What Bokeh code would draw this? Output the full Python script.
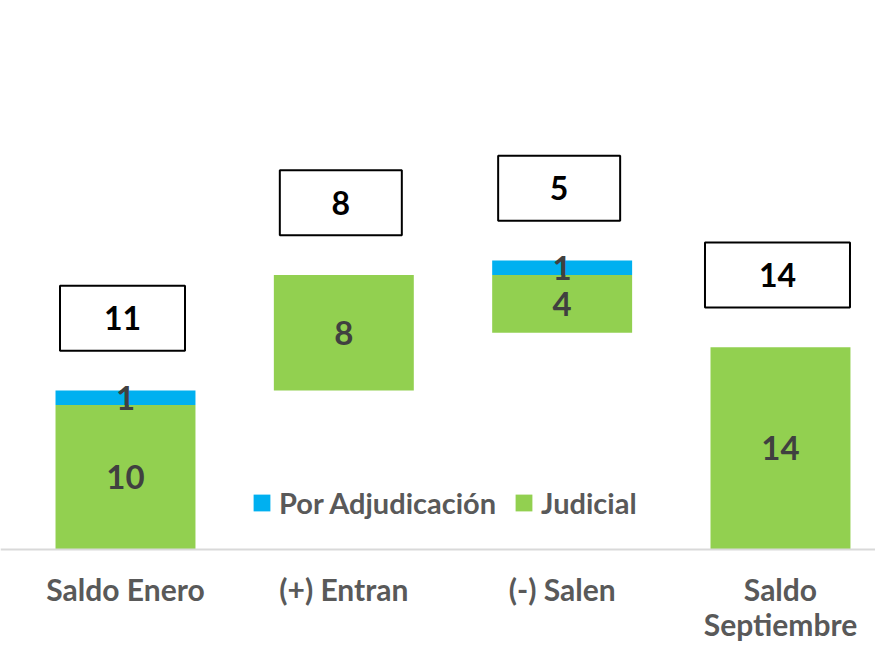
from bokeh.plotting import figure
from bokeh.models import (Range1d, ColumnDataSource, Legend, LegendItem, Span)
from bokeh.core.properties import value
from bokeh.embed import file_html
from bokeh.resources import INLINE

# ---- data ----
categories = ["Saldo Enero", "(+) Entran", "(-) Salen", "Saldo\nSeptiembre"]
base = [0, 11, 15, 0]            # invisible offset of each floating bar
judicial = [10, 8, 4, 14]
adjudicacion = [1, 0, 1, 0]

# ---- styling ----
GREEN = "#92D050"
BLUE = "#00B0F0"
FONT = "Lato"
box_widths_px = [125, 122, 122, 145]
box_offset = 5.0     # data units above the bar top
box_shift_px = -3    # small leftward shift of the total boxes

xs = list(range(len(categories)))
j_top = [b + j for b, j in zip(base, judicial)]
a_top = [t + a for t, a in zip(j_top, adjudicacion)]
totals = [j + a for j, a in zip(judicial, adjudicacion)]

X0, X1 = -0.5725, 3.4352
W = 875
px_per_unit = W / (X1 - X0)

p = figure(width=W, height=646,
           x_range=Range1d(X0, X1), y_range=Range1d(-6.713, 37.993),
           x_axis_type=None, y_axis_type=None,
           output_backend="svg", toolbar_location=None,
           min_border_left=0, min_border_right=0, min_border_top=0,
           min_border_bottom=0)
p.outline_line_color = None
p.grid.visible = False
p.background_fill_color = "white"
p.border_fill_color = "white"

# baseline (category axis line)
p.add_layout(Span(location=0, dimension="width", line_color="#D9D9D9", line_width=2))

bar_w = 0.641
green_r = p.vbar(x=xs, bottom=base, top=j_top, width=bar_w,
                 fill_color=GREEN, line_color=None)
blue_r = p.vbar(x=xs, bottom=j_top, top=a_top, width=bar_w,
                fill_color=BLUE, line_color=None)

# segment labels
lab_x, lab_y, lab_t = [], [], []
for i in xs:
    if judicial[i]:
        lab_x.append(i); lab_y.append(base[i] + judicial[i] / 2); lab_t.append(str(judicial[i]))
    if adjudicacion[i]:
        lab_x.append(i); lab_y.append(j_top[i] + adjudicacion[i] / 2); lab_t.append(str(adjudicacion[i]))
p.text(x=lab_x, y=lab_y, text=lab_t, text_align="center", text_baseline="middle",
       text_font=value(FONT), text_font_style="bold", text_font_size="33px",
       text_color="#404040")

# total boxes
box_src = ColumnDataSource(dict(x=[i + box_shift_px / px_per_unit for i in xs],
                                y=[t + box_offset for t in a_top],
                                w=box_widths_px, t=[str(v) for v in totals]))
p.rect(x="x", y="y", width="w", height=65, width_units="screen", height_units="screen",
       source=box_src, fill_color="white", line_color="black", line_width=2)
p.text(x="x", y="y", text="t", source=box_src, text_align="center",
       text_baseline="middle", text_font=value(FONT), text_font_style="bold",
       text_font_size="32px", text_color="black")

# category labels below the baseline
p.text(x=xs, y=[0] * len(xs), text=categories, text_align="center",
       text_baseline="top", y_offset=22, text_line_height=0.97,
       text_font=value(FONT), text_font_style="bold", text_font_size="30px",
       text_color="#595959")

legend = Legend(items=[LegendItem(label="Por Adjudicación", renderers=[blue_r]),
                       LegendItem(label="Judicial", renderers=[green_r])],
                orientation="horizontal", location=(251, 126),
                glyph_width=21, glyph_height=21, label_standoff=7, spacing=17,
                padding=0, margin=0, border_line_color=None,
                background_fill_alpha=0,
                label_text_font=FONT, label_text_font_style="bold",
                label_text_font_size="29px", label_text_color="#595959")
p.add_layout(legend)

open("out.html", "w").write(file_html(p, INLINE))
